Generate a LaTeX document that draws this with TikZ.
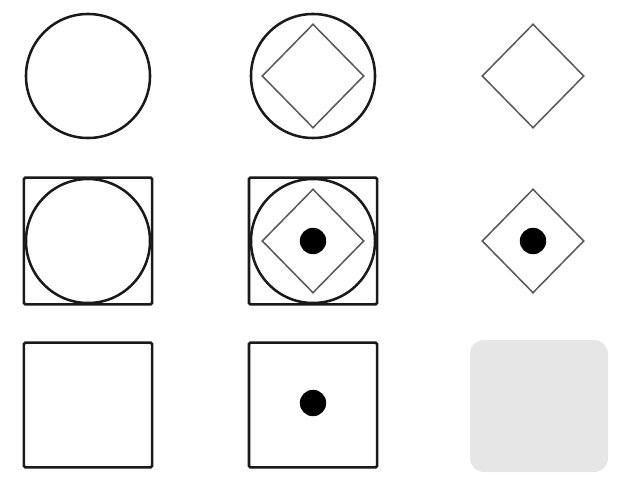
\documentclass[tikz,border=0pt]{standalone}
\usepackage{xcolor}
\usepackage{tikz}
\usetikzlibrary{shapes.geometric}
\definecolor{markdark}{HTML}{1A1A1A}
\definecolor{markgray}{HTML}{5A5A5A}
\definecolor{softgray}{HTML}{E6E6E6}
\tikzset{
  ringmark/.style={
    circle,
    draw=markdark,
    line width=1.8pt,
    minimum size=3.1cm,
    inner sep=0pt
  },
  boxmark/.style={
    rectangle,
    draw=markdark,
    line width=1.8pt,
    rounded corners=1pt,
    minimum width=3.2cm,
    minimum height=3.17cm,
    inner sep=0pt
  },
  diamark/.style={
    diamond,
    draw=markgray,
    line width=1.1pt,
    minimum width=2.55cm,
    minimum height=2.6cm,
    inner sep=0pt
  },
  dotmark/.style={
    circle,
    fill=black,
    minimum size=0.66cm,
    inner sep=0pt
  },
  emptycell/.style={
    rectangle,
    fill=softgray,
    rounded corners=0.35cm,
    minimum width=3.45cm,
    minimum height=3.3cm,
    inner sep=0pt
  }
}

\begin{document}
\begin{tikzpicture}[x=0.025cm, y=-0.025cm]
    \useasboundingbox (0,0) rectangle (636,484);

    % first row
    \node[ringmark] (ringA) at (88,76) {};
    \node[ringmark] (ringB) at (313,76) {};
    \node[diamark] (diaB) at (313,76) {};
    \node[diamark] (diaC) at (533,76) {};

    % second row
    \node[boxmark] (boxD) at (88,241) {};
    \node[ringmark] (ringD) at (88,241) {};
    \node[boxmark] (boxE) at (313,241) {};
    \node[ringmark] (ringE) at (313,241) {};
    \node[diamark] (diaE) at (313,241) {};
    \node[dotmark] (dotE) at (313,241) {};
    \node[diamark] (diaF) at (533,241) {};
    \node[dotmark] (dotF) at (533,241) {};

    % third row
    \node[boxmark, minimum height=3.12cm] (boxG) at (88,405) {};
    \node[boxmark, minimum height=3.12cm] (boxH) at (313,405) {};
    \node[dotmark] (dotH) at (313,403) {};
    \node[emptycell] (cellI) at (539,406) {};
\end{tikzpicture}
\end{document}
